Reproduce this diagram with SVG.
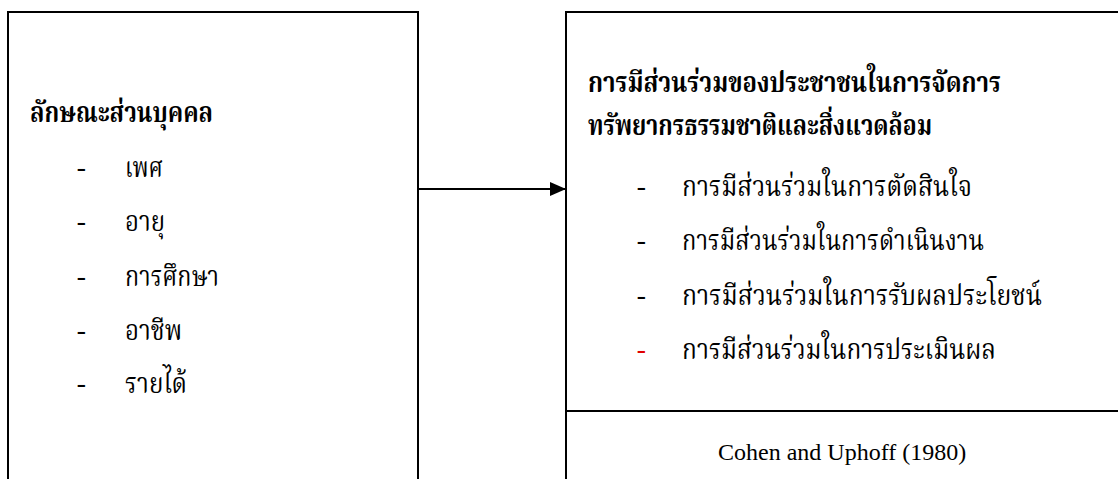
<svg xmlns="http://www.w3.org/2000/svg" width="1118" height="479" viewBox="0 0 1118 479">
<style>
.box{fill:none;stroke:#000;stroke-width:2}
.th{font-family:"Noto Serif Thai","Noto Sans Thai","Liberation Serif",serif;font-size:28px;fill:#000}
.hd{font-weight:bold}
.en{font-family:"Liberation Serif",serif;font-size:24px;fill:#000}
.red{fill:#e00000}
</style>
<defs>
<marker id="ah" viewBox="0 0 16 14" refX="16" refY="7" markerWidth="16" markerHeight="14" markerUnits="userSpaceOnUse" orient="auto">
<path d="M0,0 L16,7 L0,14 Z" fill="#000"/>
</marker>
</defs>
<rect width="1118" height="479" fill="#fff"/>
<g id="personal">
<path class="box" d="M8,479 V12 H418 V479"/>
<text class="th hd" x="30" y="122" textLength="183" lengthAdjust="spacingAndGlyphs">ลักษณะส่วนบุคคล</text>
<text class="th" x="77" y="177">-</text><text class="th" x="125" y="177" textLength="38" lengthAdjust="spacingAndGlyphs">เพศ</text>
<text class="th" x="77" y="231">-</text><text class="th" x="125" y="231" textLength="40" lengthAdjust="spacingAndGlyphs">อายุ</text>
<text class="th" x="77" y="286">-</text><text class="th" x="125" y="286" textLength="94" lengthAdjust="spacingAndGlyphs">การศึกษา</text>
<text class="th" x="77" y="340">-</text><text class="th" x="125" y="340" textLength="57" lengthAdjust="spacingAndGlyphs">อาชีพ</text>
<text class="th" x="77" y="393">-</text><text class="th" x="125" y="393" textLength="62" lengthAdjust="spacingAndGlyphs">รายได้</text>
</g>
<g id="participation">
<path class="box" d="M566,479 V12 H1118"/>
<text class="th hd" x="588" y="92" textLength="413" lengthAdjust="spacingAndGlyphs">การมีส่วนร่วมของประชาชนในการจัดการ</text>
<text class="th hd" x="588" y="135" textLength="344" lengthAdjust="spacingAndGlyphs">ทรัพยากรธรรมชาติและสิ่งแวดล้อม</text>
<text class="th" x="637" y="196">-</text><text class="th" x="682" y="196" textLength="290" lengthAdjust="spacingAndGlyphs">การมีส่วนร่วมในการตัดสินใจ</text>
<text class="th" x="637" y="250">-</text><text class="th" x="682" y="250" textLength="302" lengthAdjust="spacingAndGlyphs">การมีส่วนร่วมในการดำเนินงาน</text>
<text class="th" x="637" y="305">-</text><text class="th" x="682" y="305" textLength="360" lengthAdjust="spacingAndGlyphs">การมีส่วนร่วมในการรับผลประโยชน์</text>
<text class="th red" x="637" y="359">-</text><text class="th" x="682" y="359" textLength="314" lengthAdjust="spacingAndGlyphs">การมีส่วนร่วมในการประเมินผล</text>
</g>
<g id="source">
<path class="box" d="M566,411 H1118"/>
<text class="en" x="718" y="460">Cohen and Uphoff (1980)</text>
</g>
<g id="connectors">
<path d="M418,189 H566" stroke="#000" stroke-width="2" fill="none" marker-end="url(#ah)"/>
</g>
</svg>
